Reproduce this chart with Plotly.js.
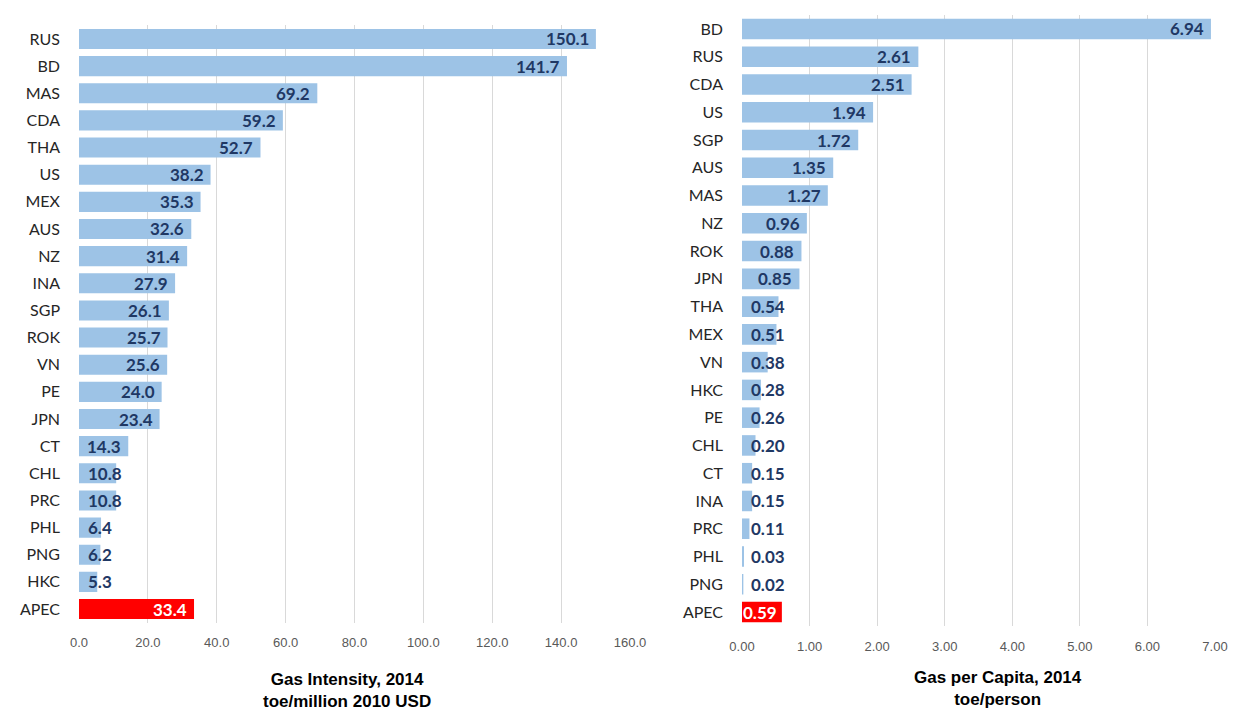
<!DOCTYPE html>
<html><head><meta charset="utf-8">
<script src="https://cdn.plot.ly/plotly-3.0.1.min.js"></script>
<style>html,body{margin:0;padding:0;background:#fff}#chart{width:1233px;height:713px}</style>
</head><body><div id="chart"></div>
<script>
const intensityEconomies = ["RUS","BD","MAS","CDA","THA","US","MEX","AUS","NZ","INA","SGP","ROK","VN","PE","JPN","CT","CHL","PRC","PHL","PNG","HKC","APEC"];
const intensityValues = [150.1,141.7,69.2,59.2,52.7,38.2,35.3,32.6,31.4,27.9,26.1,25.7,25.6,24.0,23.4,14.3,10.8,10.8,6.4,6.2,5.3,33.4];
const capitaEconomies = ["BD","RUS","CDA","US","SGP","AUS","MAS","NZ","ROK","JPN","THA","MEX","VN","HKC","PE","CHL","CT","INA","PRC","PHL","PNG","APEC"];
const capitaValues = [6.94,2.61,2.51,1.94,1.72,1.35,1.27,0.96,0.88,0.85,0.54,0.51,0.38,0.28,0.26,0.20,0.15,0.15,0.11,0.03,0.02,0.59];
const intensityTicks = [0,20,40,60,80,100,120,140,160];
const capitaTicks = [0,1,2,3,4,5,6,7];

const W = 1233, H = 713;
const blue = "#9dc3e6", red = "#ff0000";
const labelFont = "Lato, 'Open Sans', sans-serif";
const titleFont = "'Liberation Sans', Arial, sans-serif";

const dom1 = [79/W, 630/W], dom2 = [742/W, 1215/W];
const ydom1 = [1-622.6/H, 1-25.4/H], ydom2 = [1-625.9/H, 1-15.1/H];
const range1 = [0,160], range2 = [0,7];

function colors(cats){ return cats.map(c => c==="APEC" ? red : blue); }

const traces = [
  {type:"bar", orientation:"h", x:intensityValues, y:intensityEconomies, xaxis:"x", yaxis:"y",
   marker:{color:colors(intensityEconomies)}, hoverinfo:"x+y"},
  {type:"bar", orientation:"h", x:capitaValues, y:capitaEconomies, xaxis:"x2", yaxis:"y2",
   marker:{color:colors(capitaEconomies)}, hoverinfo:"x+y"}
];

function textWidth(t){ let w=0; for(const ch of t){ w += ch==="." ? 4.5 : 9.6; } return w; }

function valueAnnotations(cats, vals, dec, dom, range, xref, yref){
  const pxPerUnit = (dom[1]-dom[0])*W/(range[1]-range[0]);
  return cats.map((c,i) => {
    const txt = vals[i].toFixed(dec);
    const tw = textWidth(txt);
    const barPx = vals[i]*pxPerUnit;
    const fits = barPx >= tw + 5;
    return {xref:xref, yref:yref, x: fits ? vals[i] : 0, y:c,
      text: txt, showarrow:false, xanchor: fits ? "right" : "left", xshift: fits ? (c==="APEC" && dec===2 ? -3 : -5) : 7,
      font:{family:labelFont, size:17, color: c==="APEC" ? "#ffffff" : "#1f3864", weight:"bold"}};
  });
}

function title(text, xc, yc){
  return {xref:"paper", yref:"paper", x:xc/W, y:1-yc/H, yanchor:"middle", xanchor:"center",
    text:text, showarrow:false, font:{family:titleFont, size:17, color:"#000"}};
}

const axisX = {showgrid:true, gridcolor:"#d9d9d9", gridwidth:1, zeroline:false, showline:false,
  ticks:"", tickfont:{family:titleFont, size:13, color:"#595959"},
  ticklabelstandoff:10, fixedrange:true};
const axisY = {type:"category", autorange:"reversed", showgrid:false, zeroline:false, showline:false,
  ticks:"", tickfont:{family:labelFont, size:16, color:"#262626"}, ticklabelstandoff:18, fixedrange:true};

const layout = {
  width:W, height:H, margin:{l:0,r:0,t:0,b:0}, paper_bgcolor:"#fff", plot_bgcolor:"#fff",
  showlegend:false, bargap:0.26,
  xaxis:Object.assign({}, axisX, {domain:dom1, range:range1, tickvals:intensityTicks,
    ticktext:intensityTicks.map(v=>v.toFixed(1)), anchor:"y"}),
  yaxis:Object.assign({}, axisY, {domain:ydom1, anchor:"x", categoryorder:"array", categoryarray:intensityEconomies}),
  xaxis2:Object.assign({}, axisX, {domain:dom2, range:range2, tickvals:capitaTicks,
    ticktext:capitaTicks.map(v=>v.toFixed(2)), anchor:"y2", ticklabelstandoff:11}),
  yaxis2:Object.assign({}, axisY, {domain:ydom2, anchor:"x2", categoryorder:"array", categoryarray:capitaEconomies}),
  annotations: [
    ...valueAnnotations(intensityEconomies, intensityValues, 1, dom1, range1, "x", "y"),
    ...valueAnnotations(capitaEconomies, capitaValues, 2, dom2, range2, "x2", "y2"),
    title("<b>Gas Intensity, 2014<br>toe/million 2010 USD</b>", 347, 690),
    title("<b>Gas per Capita, 2014<br>toe/person</b>", 998, 688)
  ]
};
Plotly.newPlot("chart", traces, layout, {displayModeBar:false, staticPlot:true});
</script></body></html>
